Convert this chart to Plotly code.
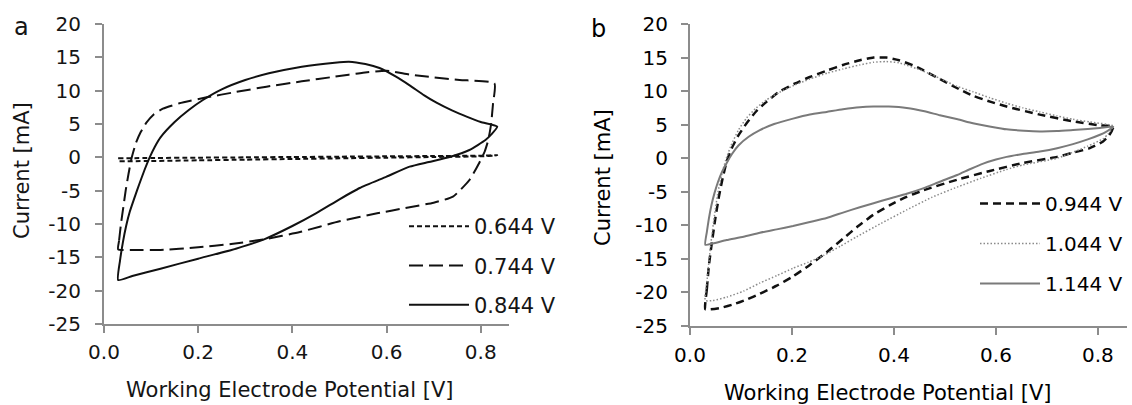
import plotly.graph_objects as go

W, H = 1132, 405
FONT = "DejaVu Sans"

# ---------------- data ----------------
# panel a (forward branch followed by reverse branch)
a644_v = [0.030, 0.10, 0.20, 0.30, 0.40, 0.50, 0.60, 0.70, 0.80, 0.835,
          0.80, 0.70, 0.60, 0.50, 0.40, 0.30, 0.20, 0.10, 0.030]
a644_i = [-0.15, -0.1, -0.05, 0.0, 0.05, 0.1, 0.15, 0.2, 0.25, 0.3,
          0.15, 0.05, -0.05, -0.15, -0.25, -0.35, -0.45, -0.55, -0.6]

a744_v = [0.030, 0.032, 0.036, 0.041, 0.046, 0.052, 0.059, 0.068, 0.078, 0.09, 0.105, 0.125,
          0.16, 0.218, 0.28, 0.345, 0.42, 0.49, 0.55, 0.60, 0.65, 0.70, 0.755, 0.829,
          0.826, 0.822, 0.816, 0.808, 0.797, 0.776, 0.741, 0.70, 0.64, 0.58, 0.50,
          0.416, 0.34, 0.27, 0.20, 0.12, 0.06, 0.030]
a744_i = [-13.8, -12.5, -10.0, -7.5, -5.0, -2.5, 0.0, 2.2, 3.8, 5.2, 6.4, 7.3,
          8.1, 9.0, 9.8, 10.6, 11.4, 12.1, 12.7, 13.0, 12.4, 12.0, 11.6, 11.1,
          8.0, 5.0, 2.6, 0.8, -0.8, -3.4, -5.9, -6.8, -7.6, -8.4, -9.6,
          -11.2, -12.3, -13.0, -13.5, -13.9, -13.9, -13.8]

a844_v = [0.030, 0.034, 0.040, 0.047, 0.055, 0.065, 0.075, 0.086, 0.097, 0.108, 0.12,
          0.15, 0.18, 0.21, 0.25, 0.30, 0.35, 0.42, 0.49, 0.52, 0.555, 0.585, 0.62,
          0.649, 0.68, 0.706, 0.74, 0.77, 0.80, 0.835,
          0.822, 0.81, 0.776, 0.734, 0.69, 0.649, 0.60, 0.543, 0.50, 0.45, 0.40,
          0.34, 0.28, 0.20, 0.12, 0.06, 0.030]
a844_i = [-18.4, -15.5, -12.8, -10.3, -8.1, -6.0, -4.0, -1.9, 0.0, 1.6, 3.0,
          5.3, 7.1, 8.6, 10.2, 11.6, 12.6, 13.6, 14.2, 14.35, 14.0, 13.4, 12.1,
          10.8, 9.3, 8.2, 7.0, 6.1, 5.3, 4.6,
          3.4, 2.6, 1.1, 0.05, -0.7, -1.4, -2.9, -4.6, -6.3, -8.4, -10.3,
          -12.3, -13.7, -15.2, -16.7, -17.8, -18.4]

# panel b
b944_v = [0.030, 0.033, 0.037, 0.043, 0.050, 0.057, 0.064, 0.072, 0.082, 0.095, 0.111,
          0.13, 0.15, 0.175, 0.205, 0.235, 0.27, 0.30, 0.333, 0.36, 0.385, 0.41,
          0.445, 0.49, 0.53, 0.555, 0.59, 0.621, 0.686, 0.751, 0.804, 0.83,
          0.822, 0.81, 0.784, 0.75, 0.72, 0.653, 0.588, 0.524, 0.457, 0.42,
          0.392, 0.36, 0.33, 0.30, 0.268, 0.235, 0.202, 0.17, 0.137, 0.11,
          0.084, 0.06, 0.040, 0.030]
b944_i = [-22.5, -19.5, -16.0, -12.5, -8.8, -5.6, -3.0, -0.5, 1.5, 3.4, 5.2,
          7.0, 8.4, 9.9, 11.1, 12.1, 13.1, 13.9, 14.6, 15.0, 15.0, 14.6,
          13.6, 11.8, 10.2, 9.3, 8.4, 7.7, 6.5, 5.5, 4.9, 4.7,
          3.4, 2.5, 1.5, 0.8, 0.2, -0.7, -1.9, -3.2, -4.8, -5.9,
          -7.0, -8.4, -10.1, -12.0, -14.0, -15.9, -17.6, -19.0, -20.2, -21.1,
          -21.8, -22.3, -22.5, -22.5]

b1044_v = [0.030, 0.033, 0.037, 0.042, 0.048, 0.055, 0.062, 0.070, 0.08, 0.095, 0.111,
           0.13, 0.15, 0.175, 0.205, 0.235, 0.27, 0.30, 0.333, 0.36, 0.385, 0.41,
           0.457, 0.49, 0.524, 0.555, 0.588, 0.621, 0.653, 0.686, 0.72, 0.751,
           0.784, 0.83,
           0.82, 0.81, 0.78, 0.72, 0.653, 0.62, 0.57, 0.524, 0.475, 0.425, 0.375,
           0.327, 0.295, 0.262, 0.232, 0.202, 0.17, 0.137, 0.105, 0.072, 0.045, 0.030]
b1044_i = [-21.2, -18.5, -15.5, -12.0, -8.5, -5.0, -2.5, -0.3, 1.8, 4.2, 6.0,
           7.5, 8.7, 9.8, 10.9, 11.8, 12.7, 13.3, 13.9, 14.3, 14.4, 14.2,
           13.0, 11.9, 10.7, 9.9, 9.0, 8.2, 7.5, 6.9, 6.3, 5.8,
           5.4, 4.8,
           3.6, 2.9, 1.8, 0.0, -1.0, -1.7, -3.0, -4.3, -5.8, -7.7, -9.7,
           -11.7, -13.1, -14.5, -15.5, -16.4, -17.5, -18.6, -19.8, -20.7, -21.2, -21.2]

b1144_v = [0.030, 0.033, 0.037, 0.042, 0.048, 0.055, 0.063, 0.072, 0.082, 0.095, 0.115,
           0.137, 0.165, 0.202, 0.235, 0.268, 0.30, 0.333, 0.36, 0.39, 0.425, 0.46,
           0.49, 0.525, 0.555, 0.59, 0.621, 0.655, 0.686, 0.72, 0.751, 0.78, 0.804, 0.83,
           0.815, 0.804, 0.78, 0.751, 0.72, 0.686, 0.65, 0.621, 0.60, 0.575, 0.55,
           0.524, 0.49, 0.457, 0.425, 0.392, 0.36, 0.333, 0.30, 0.268, 0.235, 0.202,
           0.17, 0.137, 0.105, 0.072, 0.045, 0.030]
b1144_i = [-12.9, -11.0, -9.0, -7.0, -5.2, -3.5, -2.0, -0.7, 0.6, 1.9, 3.2,
           4.2, 5.1, 5.9, 6.5, 6.9, 7.3, 7.6, 7.7, 7.7, 7.5, 7.0,
           6.4, 5.8, 5.2, 4.7, 4.3, 4.1, 4.0, 4.05, 4.2, 4.35, 4.5, 4.7,
           3.9, 3.5, 2.8, 2.1, 1.5, 1.0, 0.6, 0.2, -0.2, -0.8, -1.6,
           -2.5, -3.5, -4.5, -5.3, -6.0, -6.7, -7.3, -8.1, -8.9, -9.5, -10.1,
           -10.6, -11.1, -11.7, -12.2, -12.7, -12.9]

series_names_a = ["0.644 V", "0.744 V", "0.844 V"]
series_names_b = ["0.944 V", "1.044 V", "1.144 V"]

y_tick_vals = [-25, -20, -15, -10, -5, 0, 5, 10, 15, 20]
y_tick_text = ["-25", "-20", "-15", "-10", "-5", "0", "5", "10", "15", "20"]
x_tick_vals = [0.0, 0.2, 0.4, 0.6, 0.8]
x_tick_text = ["0.0", "0.2", "0.4", "0.6", "0.8"]

x_title = "Working Electrode Potential [V]"
y_title = "Current [mA]"

# ---------------- figure ----------------
fig = go.Figure()

styles_a = [dict(color="#111111", width=2, dash="5px,3px"),
            dict(color="#111111", width=2, dash="14px,6px"),
            dict(color="#111111", width=2)]
for (v, i), name, st in zip([(a644_v, a644_i), (a744_v, a744_i), (a844_v, a844_i)],
                            series_names_a, styles_a):
    fig.add_trace(go.Scatter(x=v, y=i, mode="lines", name=name,
                             line=dict(shape="spline", smoothing=0.5, **st),
                             xaxis="x", yaxis="y", legend="legend", legendgroup=name))

styles_b = [dict(color="#111111", width=2.5, dash="8px,5px"),
            dict(color="#8a8a8a", width=1.5, dash="1.5px,2px"),
            dict(color="#7a7a7a", width=2)]
for (v, i), name, st in zip([(b944_v, b944_i), (b1044_v, b1044_i), (b1144_v, b1144_i)],
                            series_names_b, styles_b):
    fig.add_trace(go.Scatter(x=v, y=i, mode="lines", name=name,
                             line=dict(shape="spline", smoothing=0.5, **st),
                             xaxis="x2", yaxis="y2", legend="legend2", legendgroup=name))

axis_common = dict(showgrid=False, zeroline=False, showline=True, linecolor="#8c8c8c", linewidth=2,
                   ticks="outside", ticklen=7, tickwidth=1.5, tickcolor="#8c8c8c", automargin=False)
tick_a = dict(family=FONT, size=20, color="#151515")
tick_b = dict(family=FONT, size=20, color="#000000")

fig.update_layout(
    template="none",
    width=W, height=H, autosize=False,
    margin=dict(l=0, r=0, t=0, b=0, pad=0),
    paper_bgcolor="white", plot_bgcolor="white",
    font=dict(family=FONT, color="#1a1a1a"),
    xaxis=dict(domain=[104 / W, 509 / W], range=[0, 0.86], anchor="y", tickfont=tick_a,
               tickvals=x_tick_vals, ticktext=x_tick_text, ticklabelstandoff=2, **axis_common),
    yaxis=dict(domain=[1 - 324 / H, 1 - 24 / H], range=[-25, 20], anchor="x", tickfont=tick_a,
               tickvals=y_tick_vals, ticktext=y_tick_text, ticklabelstandoff=10, **axis_common),
    xaxis2=dict(domain=[690 / W, 1127 / W], range=[0, 0.857], anchor="y2", tickfont=tick_b,
                tickvals=x_tick_vals, ticktext=x_tick_text, ticklabelstandoff=3, **axis_common),
    yaxis2=dict(domain=[1 - 326 / H, 1 - 24 / H], range=[-25, 20], anchor="x2", tickfont=tick_b,
                tickvals=y_tick_vals, ticktext=y_tick_text, ticklabelstandoff=9, **axis_common),
    legend=dict(x=404 / W, y=1 - 206 / H, xanchor="left", yanchor="top", bgcolor="rgba(0,0,0,0)",
                font=dict(family=FONT, size=21, color="#151515"), itemwidth=60, tracegroupgap=9,
                traceorder="grouped", borderwidth=0),
    legend2=dict(x=975 / W, y=1 - 184 / H, xanchor="left", yanchor="top", bgcolor="rgba(0,0,0,0)",
                 font=dict(family=FONT, size=20, color="#000000"), itemwidth=60, tracegroupgap=11,
                 traceorder="grouped", borderwidth=0),
    showlegend=True,
)

ann = [
    dict(text="a", x=21 / W, y=1 - 27 / H, size=24, color="#151515"),
    dict(text="b", x=598 / W, y=1 - 29 / H, size=24, color="#000000"),
    dict(text=x_title, x=290 / W, y=1 - 390 / H, size=21, color="#151515"),
    dict(text=x_title, x=888 / W, y=1 - 393 / H, size=21, color="#000000"),
]
for a in ann:
    fig.add_annotation(text=a["text"], x=a["x"], y=a["y"], xref="paper", yref="paper",
                       xanchor="center", yanchor="middle", showarrow=False,
                       font=dict(family=FONT, size=a["size"], color=a["color"]))
for xc, yc, col in [(22, 171, "#151515"), (603, 178, "#000000")]:
    fig.add_annotation(text=y_title, x=xc / W, y=1 - yc / H, xref="paper", yref="paper",
                       xanchor="center", yanchor="middle", showarrow=False, textangle=-90,
                       font=dict(family=FONT, size=21, color=col))

fig.write_html("out.html")
